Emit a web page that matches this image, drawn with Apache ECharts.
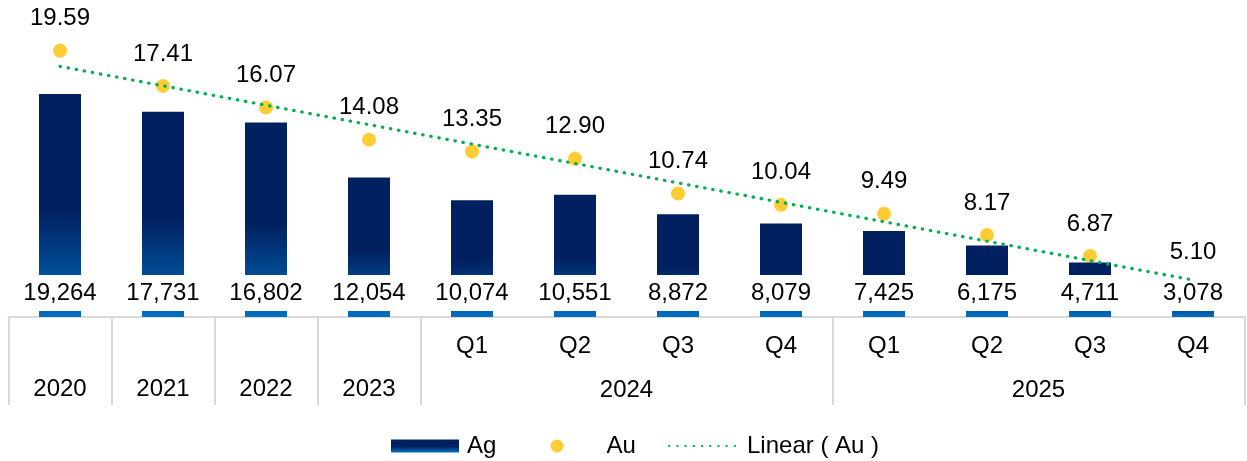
<!DOCTYPE html>
<html>
<head>
<meta charset="utf-8">
<script src="https://cdn.jsdelivr.net/npm/echarts@6/dist/echarts.min.js"></script>
<style>
html,body{margin:0;padding:0;background:#fff;}
#chart{width:1247px;height:461px;}
</style>
</head>
<body>
<div id="chart"></div>
<script>
// ---- data ----
const categories = ['2020','2021','2022','2023','2024 Q1','2024 Q2','2024 Q3','2024 Q4','2025 Q1','2025 Q2','2025 Q3','2025 Q4'];
const agValues = [19264,17731,16802,12054,10074,10551,8872,8079,7425,6175,4711,3078];
const auValues = [19.59,17.41,16.07,14.08,13.35,12.90,10.74,10.04,9.49,8.17,6.87,5.10];
const trendAu = [18.62, 5.38]; // linear trend endpoints (first / last category)
const groupYears = ['2024','2025'];
const seriesNames = ['Ag', 'Au', 'Linear ( Au )'];

// ---- derived helpers ----
const FONT = 'Liberation Sans, Arial, sans-serif';
const FS = 24;
const groupCenters = {};
const boundaries = [0];
categories.forEach((c, i) => {
  const parts = c.split(' ');
  if (parts.length === 1) { boundaries.push(i + 1); }
  else {
    const y = parts[0];
    if (!groupCenters[y]) groupCenters[y] = { start: i, end: i + 1 };
    groupCenters[y].end = i + 1;
  }
});
groupYears.forEach(y => { if (boundaries.indexOf(groupCenters[y].end) < 0) boundaries.push(groupCenters[y].end); });
const groupLabelValues = groupYears.map(y => (groupCenters[y].start + groupCenters[y].end) / 2);

const chart = echarts.init(document.getElementById('chart'));
const barGradient = new echarts.graphic.LinearGradient(0, 0, 0, 1, [
  { offset: 0, color: '#002060' },
  { offset: 0.52, color: '#002060' },
  { offset: 1, color: '#0070C0' }
]);

const legendText = (padLeft) => ({ fontSize: FS, color: '#000', fontFamily: FONT, padding: [0, 0, 0, padLeft] });

chart.setOption({
  animation: false,
  textStyle: { fontFamily: FONT },
  grid: { left: 8.5, right: 2.5, top: 27.5, bottom: 144, containLabel: false },
  legend: [
    { left: 391, top: 434, padding: 0, itemWidth: 68, itemHeight: 13, selectedMode: false,
      textStyle: legendText(3), data: [{ name: seriesNames[0], icon: 'rect' }] },
    { left: 550.5, top: 434, padding: 0, itemWidth: 13, itemHeight: 13, selectedMode: false,
      textStyle: legendText(38), data: [{ name: seriesNames[1], icon: 'circle' }] },
    { left: 668, top: 434, padding: 0, itemWidth: 69, itemHeight: 13, selectedMode: false,
      textStyle: legendText(4), data: [{ name: seriesNames[2], itemStyle: { opacity: 0 } }] }
  ],
  xAxis: [
    {
      type: 'category', data: categories, boundaryGap: true,
      axisLine: { show: false }, axisTick: { show: false }, splitLine: { show: false },
      axisLabel: {
        interval: 0, margin: 8, fontSize: FS, color: '#000', lineHeight: 43, fontFamily: FONT,
        formatter: function (v) { const p = v.split(' '); return p.length > 1 ? p[1] : '\n' + v; }
      }
    },
    {
      type: 'value', min: 0, max: categories.length, position: 'bottom',
      axisLine: { show: true, lineStyle: { color: '#D9D9D9', width: 2 } },
      axisTick: { show: true, customValues: boundaries, length: 88, inside: false, lineStyle: { color: '#D9D9D9', width: 2 } },
      splitLine: { show: false },
      axisLabel: {
        customValues: groupLabelValues, margin: 60, fontSize: FS, color: '#000', lineHeight: 26, fontFamily: FONT,
        formatter: function (v) { const idx = groupLabelValues.indexOf(v); return idx >= 0 ? groupYears[idx] : ''; }
      }
    }
  ],
  yAxis: [
    { type: 'value', min: 0, max: 25000, show: false, splitLine: { show: false } },
    { type: 'value', min: 3.09, max: 21.03, show: false, splitLine: { show: false } }
  ],
  series: [
    {
      name: seriesNames[0], type: 'bar', xAxisIndex: 0, yAxisIndex: 0, z: 2,
      barWidth: 42,
      data: agValues,
      itemStyle: { color: barGradient },
      label: {
        show: true, position: 'insideBottom', distance: 6,
        backgroundColor: '#fff', padding: [6, 3], lineHeight: 24,
        fontSize: FS, color: '#000', fontFamily: FONT,
        formatter: p => p.value.toLocaleString('en-US')
      }
    },
    {
      name: seriesNames[1], type: 'scatter', xAxisIndex: 0, yAxisIndex: 1, z: 1,
      symbol: 'circle', symbolSize: 14, clip: false,
      data: auValues,
      itemStyle: { color: '#FFC000' },
      label: {
        show: true, position: 'top', distance: 13,
        fontSize: FS, color: '#000', opacity: 1, textBorderWidth: 0, fontFamily: FONT,
        formatter: p => Number(p.value).toFixed(2)
      }
    },
    {
      name: seriesNames[2], type: 'line', xAxisIndex: 0, yAxisIndex: 1, z: 5,
      symbol: 'none', silent: true,
      data: [[0, trendAu[0]], [categories.length - 1, trendAu[1]]],
      itemStyle: { color: '#00B050' },
      lineStyle: { color: '#00B050', width: 3.2, type: [0.5, 7.7], cap: 'round' }
    }
  ]
});
</script>
</body>
</html>
